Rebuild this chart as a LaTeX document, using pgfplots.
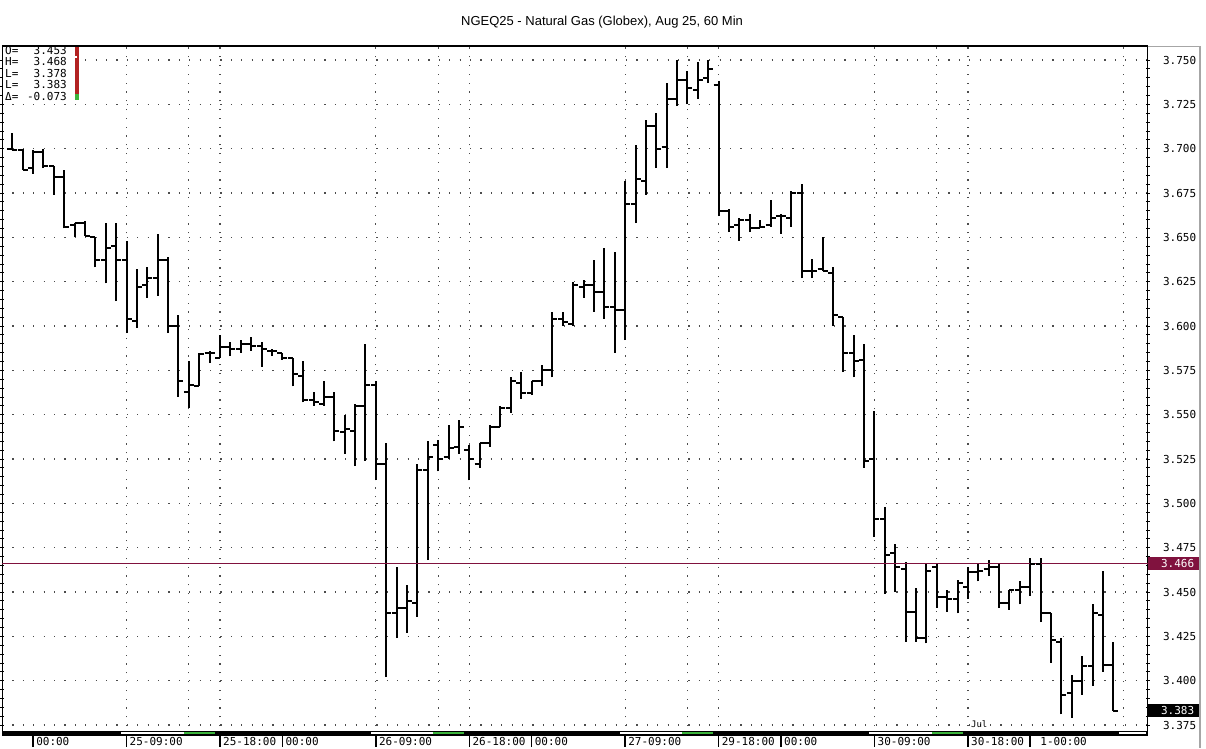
\documentclass[border=0pt]{standalone}
\usepackage{pgfplots}
\pgfplotsset{compat=1.18}
\usepackage{pgfplotstable}
\usepackage{fontspec}
\setmainfont{Liberation Sans}
\newfontfamily\monofont{DejaVu Sans Mono}
\definecolor{lastline}{RGB}{128,18,62}
\definecolor{candlered}{RGB}{178,34,34}
\definecolor{sessgreen}{RGB}{60,180,60}

% OHLC ticks: open to the left, close to the right
\pgfdeclareplotmark{ohlcopen}{\pgfpathmoveto{\pgfqpoint{-5pt}{0pt}}\pgfpathlineto{\pgfqpoint{0pt}{0pt}}\pgfusepathqstroke}
\pgfdeclareplotmark{ohlcclose}{\pgfpathmoveto{\pgfqpoint{0pt}{0pt}}\pgfpathlineto{\pgfqpoint{5pt}{0pt}}\pgfusepathqstroke}

\pgfplotstableread{
i o h l c
0 3.700 3.709 3.699 3.699
1 3.699 3.700 3.688 3.688
2 3.689 3.699 3.686 3.698
3 3.698 3.700 3.689 3.690
4 3.690 3.690 3.674 3.684
5 3.684 3.688 3.655 3.656
6 3.657 3.658 3.650 3.658
7 3.658 3.659 3.651 3.651
8 3.650 3.650 3.633 3.637
9 3.637 3.658 3.624 3.644
10 3.645 3.658 3.614 3.637
11 3.637 3.648 3.596 3.604
12 3.603 3.632 3.599 3.622
13 3.623 3.633 3.616 3.627
14 3.627 3.652 3.617 3.637
15 3.637 3.639 3.596 3.600
16 3.600 3.606 3.560 3.569
17 3.563 3.580 3.554 3.567
18 3.566 3.585 3.566 3.584
19 3.585 3.586 3.579 3.585
20 3.582 3.595 3.582 3.588
21 3.588 3.591 3.583 3.587
22 3.587 3.592 3.585 3.590
23 3.590 3.594 3.586 3.589
24 3.589 3.591 3.577 3.587
25 3.586 3.587 3.583 3.586
26 3.585 3.585 3.581 3.582
27 3.582 3.582 3.566 3.573
28 3.572 3.580 3.557 3.558
29 3.558 3.563 3.555 3.557
30 3.556 3.569 3.555 3.560
31 3.560 3.563 3.535 3.541
32 3.540 3.550 3.528 3.542
33 3.541 3.556 3.521 3.555
34 3.555 3.590 3.524 3.567
35 3.567 3.569 3.513 3.522
36 3.522 3.534 3.402 3.438
37 3.438 3.464 3.424 3.441
38 3.441 3.454 3.427 3.445
39 3.444 3.522 3.436 3.519
40 3.519 3.535 3.468 3.526
41 3.533 3.536 3.518 3.525
42 3.526 3.544 3.525 3.531
43 3.532 3.547 3.528 3.543
44 3.530 3.533 3.513 3.525
45 3.522 3.534 3.520 3.534
46 3.534 3.544 3.532 3.543
47 3.543 3.555 3.543 3.554
48 3.554 3.571 3.551 3.569
49 3.568 3.574 3.559 3.562
50 3.562 3.569 3.561 3.569
51 3.569 3.578 3.566 3.575
52 3.575 3.608 3.571 3.604
53 3.604 3.608 3.600 3.602
54 3.601 3.625 3.600 3.623
55 3.622 3.626 3.616 3.623
56 3.623 3.637 3.608 3.619
57 3.619 3.644 3.604 3.611
58 3.611 3.642 3.585 3.609
59 3.609 3.682 3.592 3.669
60 3.669 3.702 3.658 3.683
61 3.682 3.716 3.674 3.713
62 3.713 3.720 3.689 3.700
63 3.701 3.737 3.689 3.728
64 3.728 3.750 3.724 3.739
65 3.739 3.744 3.725 3.734
66 3.733 3.749 3.728 3.739
67 3.740 3.750 3.737 3.745
68 3.736 3.738 3.662 3.665
69 3.665 3.666 3.653 3.656
70 3.657 3.661 3.648 3.660
71 3.660 3.663 3.653 3.655
72 3.655 3.660 3.655 3.656
73 3.657 3.671 3.656 3.661
74 3.662 3.663 3.652 3.662
75 3.661 3.676 3.656 3.675
76 3.675 3.680 3.627 3.631
77 3.631 3.638 3.627 3.631
78 3.632 3.650 3.631 3.631
79 3.630 3.633 3.600 3.606
80 3.605 3.605 3.574 3.585
81 3.585 3.595 3.571 3.580
82 3.581 3.590 3.520 3.524
83 3.525 3.552 3.481 3.491
84 3.491 3.498 3.449 3.471
85 3.472 3.477 3.450 3.464
86 3.463 3.467 3.422 3.439
87 3.439 3.452 3.422 3.424
88 3.424 3.466 3.421 3.462
89 3.464 3.466 3.441 3.447
90 3.447 3.451 3.439 3.446
91 3.446 3.457 3.438 3.455
92 3.453 3.464 3.446 3.461
93 3.461 3.466 3.456 3.462
94 3.463 3.468 3.459 3.464
95 3.464 3.466 3.441 3.444
96 3.444 3.451 3.440 3.451
97 3.451 3.456 3.443 3.453
98 3.453 3.469 3.448 3.466
99 3.466 3.469 3.433 3.438
100 3.438 3.438 3.410 3.423
101 3.422 3.424 3.381 3.392
102 3.393 3.403 3.379 3.400
103 3.400 3.414 3.392 3.408
104 3.408 3.443 3.397 3.438
105 3.437 3.462 3.405 3.409
106 3.409 3.422 3.383 3.383
}\bars

\newcommand{\lab}{\monofont\fontsize{11}{11}\selectfont}

\begin{document}
\begin{tikzpicture}
\path[use as bounding box] (-2pt,-13pt) rectangle (1204pt,735pt);
\begin{axis}[
  at={(0pt,0pt)}, anchor=south west,
  scale only axis, width=1145.5pt, height=689pt,
  xmin=-0.99, xmax=109.29,
  ymin=3.36936, ymax=3.75790,
  clip=false,
  axis line style={black, line width=0.8pt},
  ytick={3.375,3.400,3.425,3.450,3.475,3.500,3.525,3.550,3.575,3.600,3.625,3.650,3.675,3.700,3.725,3.750},
  minor y tick num=4,
  ytick pos=both, yticklabel pos=right,
  tick align=center, major tick length=4pt, minor tick length=4pt,
  every tick/.style={black, line width=0.8pt},
  yticklabel style={font=\lab, xshift=10pt},
  /pgf/number format/fixed, /pgf/number format/fixed zerofill,
  /pgf/number format/precision=3, /pgf/number format/assume math mode=true,
  xtick={11,17,20,35,41,44,59,65,68,83,89,92,107},
  xticklabels={},
  xtick style={draw=none},
  xmajorgrids, ymajorgrids,
  y grid style={black!70, line width=1.2pt, dash pattern=on 1.2pt off 9.2pt},
  x grid style={black!70, line width=1.2pt, dash pattern=on 1.2pt off 7.6pt},
]
% high-low range
\addplot[draw=none, no markers, forget plot,
  error bars/.cd, y dir=plus, y explicit, error mark=none,
  error bar style={draw=black, solid, line width=2pt}]
  table[x=i, y=l, y error expr=\thisrow{h}-\thisrow{l}] {\bars};
\addplot[only marks, mark=ohlcopen, mark options={draw=black, line width=2pt}]
  table[x=i, y=o] {\bars};
\addplot[only marks, mark=ohlcclose, mark options={draw=black, line width=2pt}]
  table[x=i, y=c] {\bars};

% last price line
\draw[lastline, line width=1.2pt] (axis cs:-0.99,3.466) -- (axis cs:109.29,3.466);
\node[fill=lastline, anchor=west, minimum height=13pt, minimum width=52.5pt, inner sep=0pt] at (axis cs:109.29,3.466) {};
\node[anchor=west, xshift=10pt, text=white, font=\lab] at (axis cs:109.29,3.466) {3.466};
\node[fill=black, anchor=west, minimum height=13pt, minimum width=52.5pt, inner sep=0pt] at (axis cs:109.29,3.3832) {};
\node[anchor=west, xshift=10pt, text=white, font=\lab] at (axis cs:109.29,3.3832) {3.383};

% session band
\fill[black] (axis cs:-0.99,3.36936) rectangle (axis cs:109.29,3.37162);
\fill[white] (axis cs:10.5,3.3699) rectangle (axis cs:16.5,3.3711);
\fill[sessgreen] (axis cs:16.5,3.3699) rectangle (axis cs:19.5,3.3711);
\fill[white] (axis cs:34.5,3.3699) rectangle (axis cs:40.5,3.3711);
\fill[sessgreen] (axis cs:40.5,3.3699) rectangle (axis cs:43.5,3.3711);
\fill[white] (axis cs:58.5,3.3699) rectangle (axis cs:64.5,3.3711);
\fill[sessgreen] (axis cs:64.5,3.3699) rectangle (axis cs:67.5,3.3711);
\fill[white] (axis cs:82.5,3.3699) rectangle (axis cs:88.5,3.3711);
\fill[sessgreen] (axis cs:88.5,3.3699) rectangle (axis cs:91.5,3.3711);
\fill[white] (axis cs:106.5,3.3699) rectangle (axis cs:109.1,3.3711);

% time ticks and labels
\pgfplotsinvokeforeach{2,11,20,26,35,44,50,59,68,74,83,92,98}{
  \draw[black, line width=1.6pt] (axis cs:#1,3.36936) -- ++(0pt,-12pt);
}
\node[anchor=west, inner sep=0pt, font=\lab, yshift=-6pt, xshift=3pt] at (axis cs:2,3.36936) {00:00};
\node[anchor=west, inner sep=0pt, font=\lab, yshift=-6pt, xshift=3pt] at (axis cs:11,3.36936) {25-09:00};
\node[anchor=west, inner sep=0pt, font=\lab, yshift=-6pt, xshift=3pt] at (axis cs:20,3.36936) {25-18:00};
\node[anchor=west, inner sep=0pt, font=\lab, yshift=-6pt, xshift=3pt] at (axis cs:26,3.36936) {00:00};
\node[anchor=west, inner sep=0pt, font=\lab, yshift=-6pt, xshift=3pt] at (axis cs:35,3.36936) {26-09:00};
\node[anchor=west, inner sep=0pt, font=\lab, yshift=-6pt, xshift=3pt] at (axis cs:44,3.36936) {26-18:00};
\node[anchor=west, inner sep=0pt, font=\lab, yshift=-6pt, xshift=3pt] at (axis cs:50,3.36936) {00:00};
\node[anchor=west, inner sep=0pt, font=\lab, yshift=-6pt, xshift=3pt] at (axis cs:59,3.36936) {27-09:00};
\node[anchor=west, inner sep=0pt, font=\lab, yshift=-6pt, xshift=3pt] at (axis cs:68,3.36936) {29-18:00};
\node[anchor=west, inner sep=0pt, font=\lab, yshift=-6pt, xshift=3pt] at (axis cs:74,3.36936) {00:00};
\node[anchor=west, inner sep=0pt, font=\lab, yshift=-6pt, xshift=3pt] at (axis cs:83,3.36936) {30-09:00};
\node[anchor=west, inner sep=0pt, font=\lab, yshift=-6pt, xshift=3pt] at (axis cs:92,3.36936) {30-18:00};
\node[anchor=west, inner sep=0pt, font=\lab, yshift=-6pt, xshift=10pt] at (axis cs:98,3.36936) {1-00:00};
\node[anchor=south west, inner sep=0pt, font=\monofont\fontsize{9}{9}\selectfont, yshift=7pt, xshift=3pt] at (axis cs:92,3.36936) {Jul};
\end{axis}

% top border, right frame
\draw[black, line width=2.5pt] (0pt,689pt) -- (1145.5pt,689pt);
\draw[black!35, line width=0.8pt] (1145.5pt,689pt) -- (1198pt,689pt);
\draw[black!35, line width=1.6pt] (1198pt,689pt) -- (1198pt,-13pt);

% title
\node[font=\fontsize{13}{13}\selectfont] at (600pt,713pt) {NGEQ25 - Natural Gas (Globex), Aug 25, 60 Min};

% OHLC summary box
\fill[white] (0.5pt,635pt) rectangle (72pt,687.5pt);
\draw[black, line width=0.8pt] (0pt,634pt) -- (0pt,689pt);
\foreach \t/\v/\y in {O=/3.453/685, H=/3.468/673.5, L=/3.378/662, L=/3.383/650.5, Δ=/-0.073/639} {
  \node[anchor=west, inner sep=0pt, font=\lab] at (3pt,\y pt) {\t};
  \node[anchor=east, inner sep=0pt, font=\lab] at (65pt,\y pt) {\v};
}
\fill[candlered] (73pt,635pt) rectangle (77pt,688pt);
\fill[sessgreen] (73pt,635pt) rectangle (77pt,641pt);
\fill[white] (73pt,677pt) rectangle (75pt,679pt);
\end{tikzpicture}
\end{document}
